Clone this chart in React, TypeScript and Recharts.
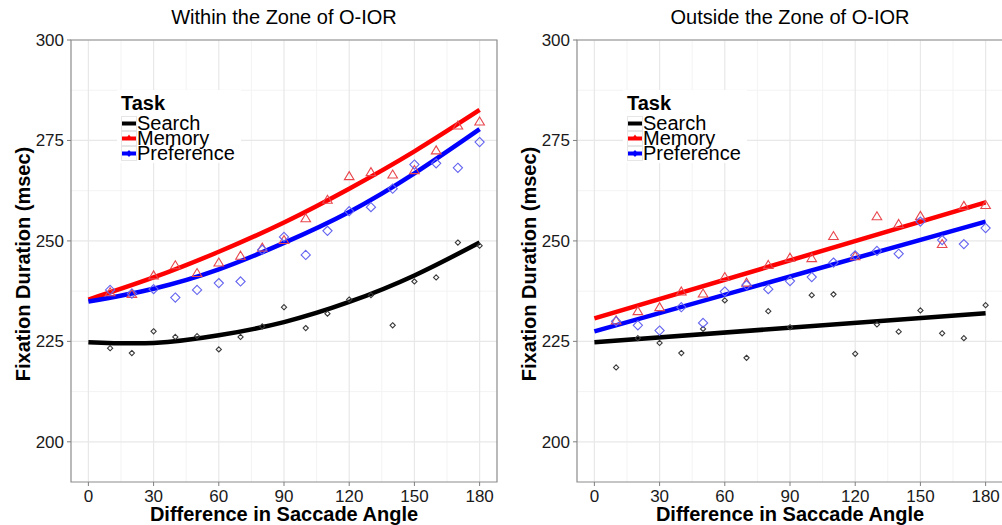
import React from "react";
import {
  CartesianGrid,
  ComposedChart,
  Label,
  Line,
  ReferenceArea,
  Scatter,
  XAxis,
  YAxis
} from "recharts";

const font = '"Liberation Sans", Arial, sans-serif';

// angles where the observed means sit
const angles = [10, 20, 30, 40, 50, 60, 70, 80, 90, 100, 110, 120, 130, 140, 150, 160, 170, 180];
const xTicks = [0, 30, 60, 90, 120, 150, 180];
const xMinor = [15, 45, 75, 105, 135, 165];
const yTicks = [200, 225, 250, 275, 300];
const yMinor = [212.5, 237.5, 262.5, 287.5];

// Within the zone of O-IOR: observed means
const withinSearch = [223.3, 222.1, 227.5, 226.1, 226.3, 223.0, 226.1, 228.7, 233.5, 228.3, 231.9, 235.4, 236.5, 229.0, 239.9, 240.9, 249.6, 248.8];
const withinMemory = [237.2, 236.8, 241.4, 243.9, 242.0, 244.6, 246.3, 248.3, 250.2, 255.6, 260.2, 266.1, 267.1, 266.5, 267.6, 272.5, 278.7, 279.7];
const withinPreference = [237.8, 236.9, 238.0, 235.9, 237.8, 239.5, 239.9, 247.8, 251.0, 246.5, 252.5, 257.4, 258.4, 263.0, 269.0, 269.3, 268.2, 274.6];

// Within: fitted curves, read at these angles
const curveAngles = [0, 30, 60, 90, 120, 150, 180];
const withinSearchFit = [224.8, 224.6, 226.5, 229.8, 234.8, 241.4, 249.6];
const withinMemoryFit = [235.4, 240.9, 247.3, 254.6, 263.0, 272.3, 282.6];
const withinPreferenceFit = [234.9, 238.1, 242.9, 249.5, 257.2, 266.8, 277.8];

// Outside the zone of O-IOR: observed means
const outsideSearch = [218.5, 225.8, 224.6, 222.1, 228.1, 235.2, 220.9, 232.5, 228.5, 236.5, 236.7, 221.9, 229.2, 227.4, 232.7, 227.0, 225.8, 234.0];
const outsideMemory = [230.2, 232.5, 233.5, 237.4, 236.9, 241.0, 239.6, 244.0, 245.8, 245.7, 251.2, 246.2, 256.1, 254.2, 256.2, 249.2, 258.7, 258.9];
const outsidePreference = [230.0, 229.0, 227.7, 233.5, 229.6, 237.4, 239.0, 238.0, 240.0, 241.0, 244.6, 246.4, 247.5, 246.8, 254.8, 250.2, 249.2, 253.2];

// Outside: fitted straight lines, read at the ends
const lineAngles = [0, 180];
const outsideSearchFit = [224.8, 232.0];
const outsideMemoryFit = [230.7, 259.6];
const outsidePreferenceFit = [227.5, 254.8];

type Pt = { x: number; y: number };
const toPoints = (xs: number[], ys: number[]): Pt[] => xs.map((x, i) => ({ x, y: ys[i] }));

const diamond = (r: number, color: string) => (props: any) => {
  const { cx, cy } = props;
  return (
    <polygon
      points={`${cx},${cy - r} ${cx + r},${cy} ${cx},${cy + r} ${cx - r},${cy}`}
      fill="none"
      stroke={color}
      strokeWidth={1.1}
    />
  );
};

const triangle = (color: string) => (props: any) => {
  const { cx, cy } = props;
  return (
    <polygon
      points={`${cx},${cy - 4.6} ${cx + 4.8},${cy + 3.4} ${cx - 4.8},${cy + 3.4}`}
      fill="none"
      stroke={color}
      strokeWidth={1.1}
    />
  );
};

const searchShape = diamond(2.6, "#3a3a3a");
const memoryShape = triangle("#e8474d");
const preferenceShape = diamond(4.6, "#6464f0");

function LegendBox() {
  const rows = [
    { label: "Search", color: "#000000", mark: "dash" },
    { label: "Memory", color: "#ff0000", mark: "tri" },
    { label: "Preference", color: "#0000ff", mark: "dia" }
  ];
  return (
    <div
      style={{
        position: "absolute",
        left: 117,
        top: 90,
        width: 124,
        height: 73,
        background: "#fff",
        fontFamily: font,
        color: "#000"
      }}
    >
      <div style={{ position: "absolute", left: 4, top: 3, fontSize: 20, fontWeight: "bold", lineHeight: "20px" }}>
        Task
      </div>
      {rows.map((r, i) => (
        <div
          key={r.label}
          style={{ position: "absolute", left: 4, top: 26 + i * 15, height: 15, display: "flex", alignItems: "center" }}
        >
          <svg width={16} height={15} style={{ display: "block" }}>
            <rect x={0.5} y={0.5} width={15} height={14} fill="#fff" stroke="#e6e6e6" />
            <line x1={1} x2={15} y1={7.5} y2={7.5} stroke={r.color} strokeWidth={4} />
            {r.mark === "tri" && <polygon points="8,3.5 11,8 5,8" fill={r.color} />}
            {r.mark === "dia" && <polygon points="8,4 11,7.5 8,11 5,7.5" fill={r.color} />}
          </svg>
          <span style={{ fontSize: 20, lineHeight: "15px", whiteSpace: "nowrap" }}>{r.label}</span>
        </div>
      ))}
    </div>
  );
}

type PanelProps = {
  left: number;
  title: string;
  curve: "natural" | "linear";
  search: number[];
  memory: number[];
  preference: number[];
  fitXs: number[];
  searchFit: number[];
  memoryFit: number[];
  preferenceFit: number[];
};

function Panel(p: PanelProps) {
  return (
    <div style={{ position: "absolute", left: p.left, top: 0, width: 500, height: 525 }}>
      <div
        style={{
          position: "absolute",
          left: 71,
          width: 426,
          top: 6,
          textAlign: "center",
          fontFamily: font,
          fontSize: 20,
          lineHeight: "22px",
          color: "#000"
        }}
      >
        {p.title}
      </div>
      <ComposedChart width={500} height={525} margin={{ top: 40, right: 3, bottom: 0, left: 0 }}>
        <CartesianGrid verticalValues={xMinor} horizontalValues={yMinor} stroke="#f3f3f3" strokeWidth={1} />
        <CartesianGrid verticalValues={xTicks} horizontalValues={yTicks} stroke="#e8e8e8" strokeWidth={1.2} />
        <XAxis
          type="number"
          dataKey="x"
          domain={[-8, 188]}
          ticks={xTicks}
          allowDataOverflow
          height={43}
          tickSize={4}
          tickMargin={4}
          axisLine={false}
          tickLine={{ stroke: "#7f7f7f" }}
          tick={{ fill: "#1a1a1a", fontSize: 17, fontFamily: font }}
        >
          <Label
            content={() => (
              <text x={284} y={521} textAnchor="middle" fontFamily={font} fontSize={20} fontWeight="bold" fill="#000">
                Difference in Saccade Angle
              </text>
            )}
          />
        </XAxis>
        <YAxis
          type="number"
          dataKey="y"
          domain={[190, 300]}
          ticks={yTicks}
          allowDataOverflow
          width={71}
          tickSize={4}
          tickMargin={3}
          axisLine={false}
          tickLine={{ stroke: "#7f7f7f" }}
          tick={{ fill: "#1a1a1a", fontSize: 17, fontFamily: font }}
        >
          <Label
            content={() => (
              <text
                x={23}
                y={264}
                transform="rotate(-90, 23, 264)"
                textAnchor="middle"
                dominantBaseline="central"
                fontFamily={font}
                fontSize={20}
                fontWeight="bold"
                fill="#000"
              >
                Fixation Duration (msec)
              </text>
            )}
          />
        </YAxis>
        <ReferenceArea x1={-8} x2={188} y1={190} y2={300} fill="none" stroke="#8c8c8c" strokeWidth={1.2} ifOverflow="visible" />
        <Scatter data={toPoints(angles, p.search)} dataKey="y" shape={searchShape} isAnimationActive={false} />
        <Scatter data={toPoints(angles, p.memory)} dataKey="y" shape={memoryShape} isAnimationActive={false} />
        <Scatter data={toPoints(angles, p.preference)} dataKey="y" shape={preferenceShape} isAnimationActive={false} />
        <Line data={toPoints(p.fitXs, p.searchFit)} dataKey="y" type={p.curve} stroke="#000" strokeWidth={4.5} dot={false} activeDot={false} isAnimationActive={false} />
        <Line data={toPoints(p.fitXs, p.memoryFit)} dataKey="y" type={p.curve} stroke="#ff0000" strokeWidth={4.5} dot={false} activeDot={false} isAnimationActive={false} />
        <Line data={toPoints(p.fitXs, p.preferenceFit)} dataKey="y" type={p.curve} stroke="#0000ff" strokeWidth={4.5} dot={false} activeDot={false} isAnimationActive={false} />
      </ComposedChart>
      <LegendBox />
    </div>
  );
}

export default function App() {
  return (
    <div style={{ position: "absolute", left: 0, top: 0, width: 1002, height: 525, overflow: "hidden", background: "#fff" }}>
      <Panel
        left={0}
        title="Within the Zone of O-IOR"
        curve="natural"
        search={withinSearch}
        memory={withinMemory}
        preference={withinPreference}
        fitXs={curveAngles}
        searchFit={withinSearchFit}
        memoryFit={withinMemoryFit}
        preferenceFit={withinPreferenceFit}
      />
      <Panel
        left={506}
        title="Outside the Zone of O-IOR"
        curve="linear"
        search={outsideSearch}
        memory={outsideMemory}
        preference={outsidePreference}
        fitXs={lineAngles}
        searchFit={outsideSearchFit}
        memoryFit={outsideMemoryFit}
        preferenceFit={outsidePreferenceFit}
      />
    </div>
  );
}
